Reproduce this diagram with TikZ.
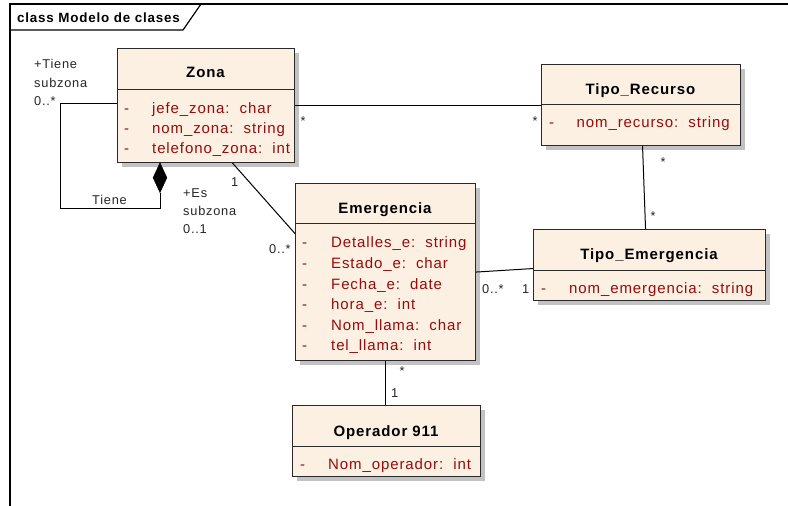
\documentclass[tikz,border=0pt]{standalone}
\usepackage{fontspec}
\setmainfont{Liberation Sans}[LetterSpace=6]
\usetikzlibrary{shapes.geometric,shadows}
\definecolor{clsfill}{HTML}{FBF0E2}
\definecolor{attrred}{HTML}{9A0A0A}
\definecolor{bordr}{HTML}{2A2A2A}
\definecolor{shad}{HTML}{C2C2C2}
\newcommand\attrsz{\fontsize{15}{17}\selectfont}
\newcommand\lblsz{\fontsize{12.8}{15}\selectfont}
\tikzset{
  cls/.style={draw=bordr, line width=1.1pt, fill=clsfill, anchor=north west, inner sep=0pt,
    drop shadow={shadow xshift=4pt, shadow yshift=-4pt, fill=shad, opacity=1}},
  hline/.style={draw=bordr, line width=1pt},
  ttl/.style={font=\attrsz\bfseries, inner sep=0pt, anchor=base},
  attr/.style={font=\attrsz, text=attrred, inner sep=0pt, anchor=base west},
  lbl/.style={font=\lblsz, text=black!85, inner sep=0pt, anchor=base west},
  conn/.style={draw=black, line width=1pt},
  frame/.style={draw=black, line width=1.2pt}
}
\begin{document}
\begin{tikzpicture}[x=1pt,y=-1pt]
\useasboundingbox (0,0) rectangle (788,506);
\fill[white] (0,0) rectangle (788,506);
% frame
\draw[frame] (10,506) -- (10,4) -- (788,4);
\draw[frame] (10,30) -- (183,30) -- (201,4);
\node[font=\fontsize{13.4}{15}\selectfont\bfseries, inner sep=0pt, anchor=base west] (title) at (17,23) {class Modelo de clases};

% Zona
\node[cls, minimum width=177pt, minimum height=114pt] (zona) at (117,48) {};
\draw[hline] (zona.west |- 0,89) -- (zona.east |- 0,89);
\node[ttl] (zonat) at (205.5,77) {Zona};
\node[attr] (z1d) at (124,113) {-}; \node[attr] (z1) at (152,113) {jefe\_zona:\ \ char};
\node[attr] (z2d) at (124,133) {-}; \node[attr] (z2) at (152,133) {nom\_zona:\ \ string};
\node[attr] (z3d) at (124,153) {-}; \node[attr] (z3) at (152,153) {telefono\_zona:\ \ int};

% Tipo_Recurso
\node[cls, minimum width=199pt, minimum height=81pt] (tr) at (541,64) {};
\draw[hline] (tr.west |- 0,104) -- (tr.east |- 0,104);
\node[ttl] (trt) at (640.5,94) {Tipo\_Recurso};
\node[attr] (tr1d) at (549,127) {-}; \node[attr] (tr1) at (576.5,127) {nom\_recurso:\ \ string};

% Emergencia
\node[cls, minimum width=180pt, minimum height=177pt] (em) at (295,183) {};
\draw[hline] (em.west |- 0,223) -- (em.east |- 0,223);
\node[ttl] (emt) at (385,213) {Emergencia};
\node[attr] (e1d) at (302,247) {-}; \node[attr] (e1) at (331,247) {Detalles\_e:\ \ string};
\node[attr] (e2d) at (302,268) {-}; \node[attr] (e2) at (331,268) {Estado\_e:\ \ char};
\node[attr] (e3d) at (302,289) {-}; \node[attr] (e3) at (331,289) {Fecha\_e:\ \ date};
\node[attr] (e4d) at (302,309) {-}; \node[attr] (e4) at (331,309) {hora\_e:\ \ int};
\node[attr] (e5d) at (302,330) {-}; \node[attr] (e5) at (331,330) {Nom\_llama:\ \ char};
\node[attr] (e6d) at (302,350) {-}; \node[attr] (e6) at (331,350) {tel\_llama:\ \ int};

% Tipo_Emergencia
\node[cls, minimum width=232pt, minimum height=71pt] (te) at (533,229) {};
\draw[hline] (te.west |- 0,270) -- (te.east |- 0,270);
\node[ttl] (tet) at (649,259) {Tipo\_Emergencia};
\node[attr] (te1d) at (541,293) {-}; \node[attr] (te1) at (569,293) {nom\_emergencia:\ \ string};

% Operador 911
\node[cls, minimum width=188pt, minimum height=71pt] (op) at (292,405) {};
\draw[hline] (op.west |- 0,446) -- (op.east |- 0,446);
\node[ttl] (opt) at (386,436) {Operador 911};
\node[attr] (o1d) at (300,469) {-}; \node[attr] (o1) at (328,469) {Nom\_operador:\ \ int};

% composition diamond
\node[diamond, draw=black, fill=black, minimum width=14pt, minimum height=30pt, inner sep=0pt, anchor=north] (dia) at (160,162.5) {};

% connectors
\draw[conn] (zona.east |- tr.west) -- (tr.west);
\draw[conn] ([xshift=1.5pt]tr.south) -- ([xshift=-4pt]te.north);
\draw[conn] (em.east) -- ([yshift=-3.5pt]te.west);
\draw[conn] (em.south) -- (em.south |- op.north);
\draw[conn] ([xshift=26.5pt]zona.south) -- ([yshift=38.5pt]em.west);
\draw[conn] (zona.west |- 0,103) -- (60,103) -- (60,208) -| (dia.south);

% labels
\node[lbl] (l1) at (300.5,125) {*};
\node[lbl] (l2) at (532.5,125) {*};
\node[lbl] (l3) at (660.5,166) {*};
\node[lbl] (l4) at (650.5,220) {*};
\node[lbl] (l5) at (482,293) {0..*};
\node[lbl] (l6) at (522,293) {1};
\node[lbl] (l7) at (269,253) {0..*};
\node[lbl] (l8) at (231,186) {1};
\node[lbl] (l9) at (399.5,375) {*};
\node[lbl] (l10) at (391,397) {1};
\node[lbl] (l11) at (92,204) {Tiene};
\node[lbl] (l12) at (34,68) {+Tiene};
\node[lbl] (l13) at (34,87) {subzona};
\node[lbl] (l14) at (34,105) {0..*};
\node[lbl] (l15) at (183,197) {+Es};
\node[lbl] (l16) at (183,215) {subzona};
\node[lbl] (l17) at (183,233) {0..1};
\end{tikzpicture}
\end{document}
